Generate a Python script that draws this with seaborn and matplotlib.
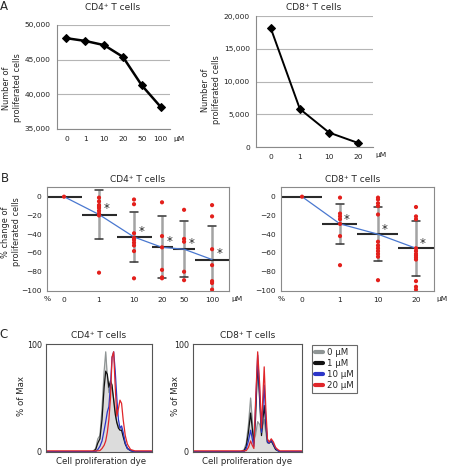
import numpy as np
import pandas as pd
import matplotlib
matplotlib.use("Agg")
import matplotlib.pyplot as plt
import seaborn as sns
from matplotlib.ticker import FuncFormatter, MultipleLocator, FixedLocator
from matplotlib.lines import Line2D

sns.set_theme(style="white")
plt.rcParams['font.family'] = ['DejaVu Sans']

# ---------------- data ----------------
# Panel A
a_cd4_doses = ["0", "1", "10", "20", "50", "100"]
a_cd4_counts = [48100, 47700, 47100, 45400, 41300, 38200]
a_cd8_doses = ["0", "1", "10", "20"]
a_cd8_counts = [18200, 5800, 2200, 600]

# Panel B
b_cd4_doses = ["0", "1", "10", "20", "50", "100"]
b_cd4_points = [[0],
                [-1, -5, -9, -10, -12, -15, -18, -20, -81],
                [-3, -8, -39, -44, -46, -49, -52, -58, -87],
                [-6, -42, -54, -78, -86, -87],
                [-14, -45, -48, -80, -89],
                [-9, -21, -56, -73, -90, -92, -99]]
b_cd4_mean = [0, -19, -43, -54, -56, -67]
b_cd4_sd = [0, 26, 27, 33, 30, 36]
b_cd4_sig = [False, True, True, True, True, True]

b_cd8_doses = ["0", "1", "10", "20"]
b_cd8_points = [[0],
                [-1, -18, -21, -24, -29, -42, -73],
                [-1, -3, -7, -10, -19, -48, -52, -55, -58, -61, -64, -89],
                [-11, -21, -24, -55, -58, -61, -63, -65, -67, -90, -96, -99]]
b_cd8_mean = [0, -29, -40, -55]
b_cd8_sd = [0, 21, 29, 29.5]
b_cd8_sig = [False, True, True, True]

# Panel C (histograms, % of max vs dye intensity position)
c_labels = ["0 μM", "1 μM", "10 μM", "20 μM"]
c_cd4_x = [0, 44, 47, 49, 51, 53, 55, 56.5, 58, 59.5, 61, 62.5, 64, 65.5, 67, 68.5, 70, 71.5, 73, 75, 77, 80, 84, 100]
c_cd4_0 = [0, 0, 3, 12, 15, 40, 75, 93, 70, 55, 62, 58, 50, 38, 28, 24, 22, 22, 16, 8, 3, 1, 0, 0]
c_cd4_1 = [0, 0, 2, 8, 12, 30, 60, 75, 72, 60, 66, 62, 48, 35, 27, 22, 20, 20, 14, 7, 3, 1, 0, 0]
c_cd4_10 = [0, 0, 0, 2, 5, 10, 20, 28, 37, 42, 62, 88, 93, 75, 50, 30, 22, 24, 18, 8, 3, 1, 0, 0]
c_cd4_20 = [0.8, 0.8, 0.8, 0.8, 1, 3, 6, 10, 18, 30, 50, 88, 93, 60, 33, 40, 48, 45, 30, 15, 7, 2, 0.8, 0.8]

c_cd8_x = [0, 44, 47, 49, 51, 53, 54.5, 56, 57.5, 59.5, 61.5, 63, 65.5, 67, 68.5, 70, 72, 74, 76, 78, 80, 100]
c_cd8_0 = [0, 0, 2, 8, 25, 50, 30, 10, 15, 28, 25, 18, 30, 18, 8, 8, 10, 7, 3, 1, 0, 0]
c_cd8_1 = [0, 0, 1, 5, 18, 36, 22, 8, 30, 82, 45, 15, 43, 25, 9, 8, 10, 6, 2, 1, 0, 0]
c_cd8_10 = [0, 0, 0, 3, 10, 20, 12, 5, 40, 90, 50, 18, 62, 30, 9, 8, 11, 7, 3, 1, 0, 0]
c_cd8_20 = [0.8, 0.8, 0.8, 1, 4, 10, 6, 3, 45, 93, 60, 22, 79, 40, 12, 9, 12, 9, 4, 2, 0.8, 0.8]

# ---------------- layout ----------------
W, H = 449, 466
fig = plt.figure(figsize=(W / 100, H / 100), dpi=100)
fig.patch.set_facecolor("white")


def ax_px(x0, y0, x1, y1):
    return fig.add_axes([x0 / W, 1 - y1 / H, (x1 - x0) / W, (y1 - y0) / H])


def ftext(x, y, s, **kw):
    return fig.text(x / W, 1 - y / H, s, **kw)


SPINE = "#8a8a8a"
TICK_FS = 5.4
TITLE_FS = 6.5
LAB_FS = 5.9
comma = FuncFormatter(lambda v, p: f"{int(v):,}")


def style_A(ax, n):
    for s in ["top", "right"]:
        ax.spines[s].set_visible(False)
    for s in ["left", "bottom"]:
        ax.spines[s].set_color(SPINE)
        ax.spines[s].set_linewidth(0.8)
    ax.set_xlim(-0.5, n - 0.5)
    ax.xaxis.set_major_locator(FixedLocator(list(range(n))))
    ax.xaxis.set_minor_locator(FixedLocator([k - 0.5 for k in range(n + 1)]))
    ax.tick_params(axis="x", which="major", length=0, pad=5, labelsize=TICK_FS, colors="#222")
    ax.tick_params(axis="x", which="minor", length=2.5, width=0.7, color=SPINE, direction="out")
    ax.tick_params(axis="y", which="major", length=2.5, width=0.7, color=SPINE, direction="out",
                   labelsize=TICK_FS, labelcolor="#222", pad=2)
    ax.yaxis.set_major_formatter(comma)
    ax.yaxis.grid(True, color="#b5b5b5", lw=0.8)
    ax.set_axisbelow(True)
    ax.set_xlabel("")
    ax.set_ylabel("")


# ---- Panel A left
ax = ax_px(57, 25, 170, 129)
sns.lineplot(x=np.arange(len(a_cd4_doses)), y=a_cd4_counts, ax=ax, color="black", lw=1.8,
             marker="D", markersize=4.4, markeredgecolor="black")
ax.set_ylim(35000, 50000)
ax.set_yticks([35000, 40000, 45000, 50000])
style_A(ax, len(a_cd4_doses))
ax.set_xticklabels(a_cd4_doses)
ftext(179, 139, "μM", fontsize=TICK_FS, color="#222", ha="center", va="center")
ftext(113, 7, "CD4⁺ T cells", fontsize=TITLE_FS, ha="center", va="center")
ftext(12, 88, "Number of\nproliferated cells", fontsize=LAB_FS, rotation=90, ha="center", va="center",
      multialignment="center")

# ---- Panel A right
ax = ax_px(256, 16, 373, 147)
sns.lineplot(x=np.arange(len(a_cd8_doses)), y=a_cd8_counts, ax=ax, color="black", lw=1.4,
             marker="D", markersize=4.4, markeredgecolor="black")
ax.set_ylim(0, 20000)
ax.set_yticks([0, 5000, 10000, 15000, 20000])
style_A(ax, len(a_cd8_doses))
ax.set_xticklabels(a_cd8_doses)
ftext(381, 155, "μM", fontsize=TICK_FS, color="#222", ha="center", va="center")
ftext(314, 7, "CD8⁺ T cells", fontsize=TITLE_FS, ha="center", va="center")
ftext(211, 90, "Number of\nproliferated cells", fontsize=LAB_FS, rotation=90, ha="center", va="center",
      multialignment="center")

ftext(4, 6, "A", fontsize=8.5, ha="center", va="center")


# ---- Panel B
def panel_B(ax, doses, points, means, sds, sig, pos, bounds, cap, ast_dx, ast_dy):
    for s in ax.spines.values():
        s.set_color(SPINE)
        s.set_linewidth(0.8)
    for i in range(len(doses)):
        if sds[i] > 0:
            ax.plot([pos[i], pos[i]], [means[i] - sds[i], means[i] + sds[i]], color="#a3a3a3",
                    lw=1.8, zorder=1, solid_capstyle="butt")
            for yy in (means[i] - sds[i], means[i] + sds[i]):
                ax.plot([pos[i] - cap, pos[i] + cap], [yy, yy], color="#333", lw=1.1, zorder=2)
        ax.plot([bounds[i], bounds[i + 1]], [means[i], means[i]], color="#2a2a2a", lw=1.5, zorder=2,
                solid_capstyle="butt")
    ax.plot(pos, means, color="#4a78d0", lw=0.9, zorder=3)
    df = pd.DataFrame({"x": [pos[i] for i in range(len(doses)) for _ in points[i]],
                       "y": [v for i in range(len(doses)) for v in points[i]]})
    sns.scatterplot(data=df, x="x", y="y", ax=ax, color="#e3201c", s=9, edgecolor="none", zorder=4,
                    legend=False)
    for i in range(len(doses)):
        if sig[i]:
            ax.text(pos[i] + ast_dx, means[i] + ast_dy, "*", fontsize=8.5, ha="center", va="center",
                    color="#222", zorder=5)
    ax.set_xlim(bounds[0], bounds[-1])
    ax.set_ylim(-100, 10)
    ax.xaxis.set_major_locator(FixedLocator(pos))
    ax.set_xticklabels(doses)
    ax.xaxis.set_minor_locator(FixedLocator(bounds[1:-1]))
    ax.yaxis.set_major_locator(FixedLocator([0, -20, -40, -60, -80, -100]))
    ax.yaxis.set_minor_locator(FixedLocator([-10, -30, -50, -70, -90]))
    ax.tick_params(axis="x", which="major", length=0, pad=5, labelsize=TICK_FS, colors="#222")
    ax.tick_params(axis="x", which="minor", length=2.5, width=0.7, color=SPINE, direction="out")
    ax.tick_params(axis="y", which="major", length=2.5, width=0.7, color=SPINE, direction="out",
                   labelsize=TICK_FS, labelcolor="#222", pad=1.5)
    ax.tick_params(axis="y", which="minor", length=1.5, width=0.6, color=SPINE, direction="out")
    ax.set_xlabel("")
    ax.set_ylabel("")


ax = ax_px(47, 187.3, 229, 290.5)
pos4 = [0, 1, 2, 2.8, 3.43, 4.23]
bounds4 = [-0.486, 0.5, 1.5, 2.5, 3.1, 3.75, 4.714]
panel_B(ax, b_cd4_doses, b_cd4_points, b_cd4_mean, b_cd4_sd, b_cd4_sig, pos4, bounds4, 0.12, 0.22, 6)
ftext(138, 179, "CD4⁺ T cells", fontsize=TITLE_FS, ha="center", va="center")
ftext(47, 299, "%", fontsize=TICK_FS, ha="center", va="center", color="#222")
ftext(237, 299, "μM", fontsize=TICK_FS, ha="center", va="center", color="#222")
ftext(11, 232, "% change of\nproliferated cells", fontsize=LAB_FS, rotation=90, ha="center",
      va="center", multialignment="center")

ax = ax_px(281, 187.3, 434, 290.5)
pos8 = [0, 1, 2, 3]
bounds8 = [-0.553, 0.53, 1.44, 2.52, 3.474]
panel_B(ax, b_cd8_doses, b_cd8_points, b_cd8_mean, b_cd8_sd, b_cd8_sig, pos8, bounds8, 0.1, 0.18, 5)
ftext(353, 179, "CD8⁺ T cells", fontsize=TITLE_FS, ha="center", va="center")
ftext(281, 299, "%", fontsize=TICK_FS, ha="center", va="center", color="#222")
ftext(442, 299, "μM", fontsize=TICK_FS, ha="center", va="center", color="#222")

ftext(5, 178, "B", fontsize=8.5, ha="center", va="center")

# ---- Panel C
C_COLORS = ["#8f9595", "#111111", "#2b35c8", "#e0262a"]


def panel_C(ax, xs, series):
    ax.fill_between(xs, series[0], 0, color="#dcdcdc", lw=0, zorder=1)
    for ys, col in zip(series, C_COLORS):
        ax.plot(xs, ys, color=col, lw=0.9, zorder=2)
    for s in ax.spines.values():
        s.set_color("#555")
        s.set_linewidth(0.8)
    ax.set_xlim(0, 100)
    ax.set_ylim(0, 100)
    ax.set_xticks([])
    ax.set_yticks([0, 100])
    ax.tick_params(axis="y", length=1.5, width=0.6, color="#555", labelsize=5.8, pad=1.5,
                   labelcolor="#222")


ax = ax_px(46, 344.3, 151.7, 451.7)
panel_C(ax, c_cd4_x, [c_cd4_0, c_cd4_1, c_cd4_10, c_cd4_20])
ftext(99, 335, "CD4⁺ T cells", fontsize=TITLE_FS, ha="center", va="center")
ftext(101, 461.5, "Cell proliferation dye", fontsize=6.2, ha="center", va="center")
ftext(21, 396, "% of Max", fontsize=6.2, rotation=90, ha="center", va="center")

ax = ax_px(193, 344.3, 301.7, 451.7)
panel_C(ax, c_cd8_x, [c_cd8_0, c_cd8_1, c_cd8_10, c_cd8_20])
ftext(248, 335, "CD8⁺ T cells", fontsize=TITLE_FS, ha="center", va="center")
ftext(247, 461.5, "Cell proliferation dye", fontsize=6.2, ha="center", va="center")
ftext(176, 396, "% of Max", fontsize=6.2, rotation=90, ha="center", va="center")

handles = [Line2D([0], [0], color=c, lw=3) for c in C_COLORS]
leg = fig.legend(handles, c_labels, loc="upper left", bbox_to_anchor=(312 / W, 1 - 345 / H),
                 fontsize=6.2, frameon=True, fancybox=False, handlelength=0.9, handletextpad=0.5,
                 borderpad=0.35, labelspacing=0.25, borderaxespad=0)
leg.get_frame().set_edgecolor("#444")
leg.get_frame().set_linewidth(0.8)

ftext(4, 334, "C", fontsize=8.5, ha="center", va="center")

fig.savefig("out.png", dpi=100, facecolor="white")
